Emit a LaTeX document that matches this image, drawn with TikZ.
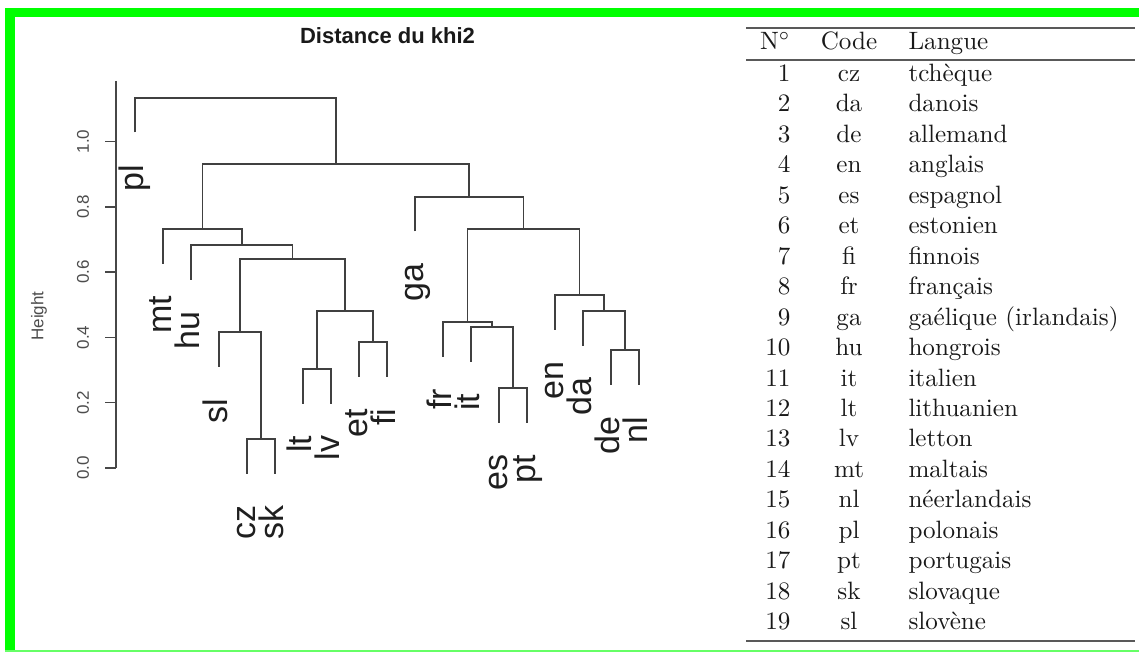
\documentclass[tikz,border=0pt]{standalone}
\usepackage{fontspec}
\newfontfamily\rsans{Liberation Sans}[Ligatures=NoCommon]
\usetikzlibrary{calc}
\begin{document}
\begin{tikzpicture}[x=1pt,y=-1pt,
  dendro/.style={draw=black!75,line width=1.7pt},
  axisline/.style={draw=black!72,line width=1.5pt},
  leaflab/.style={font=\rsans\fontsize{34}{34}\selectfont,rotate=90,anchor=east,inner sep=0pt,text height=24.5pt,text depth=7.1pt,text=black!88},
  ticklab/.style={font=\rsans\fontsize{17}{17}\selectfont,rotate=90,anchor=center,inner sep=0pt,text=black!70},
  titlelab/.style={font=\rsans\bfseries\fontsize{22}{22}\selectfont,inner sep=0pt,text=black!90},
  tabtxt/.style={scale=2.51,inner sep=0pt,text=black!90,font=\addfontfeatures{FakeBold=0.5}},
  tabrule/.style={draw=black!65}
]
\useasboundingbox (0,0) rectangle (1139,652);
% green frame
\fill[green] (5,8) rectangle (1139,17);
\fill[green] (5,8) rectangle (15,652);
\draw[green!60,line width=2pt] (5,650.5) -- (1139,650.5);

% title
\node[titlelab] (title) at (387.5,36) {Distance du khi2};

% axis
\draw[axisline] (116,81) -- (116,468);
\foreach \v/\lab in {0/0.0,1/0.2,2/0.4,3/0.6,4/0.8,5/1.0}{
  \draw[axisline] (105,{468-65.3*\v}) -- (116,{468-65.3*\v});
  \node[ticklab] (tick\v) at (83,{468-65.3*\v}) {\lab};
}
\node[ticklab] (ylab) at (39,316) {Height};

% leaves: name / x / parent merge y
\foreach \n/\x/\py in {pl/135/98, mt/163/229, hu/191/245, sl/219/332, cz/247/439, sk/275/439,
  lt/303/369, lv/331/369, et/359/342, fi/387/342, ga/415/197, fr/443/322, it/471/327,
  es/499/388, pt/527/388, en/555/295, da/583/311, de/611/350, nl/639/350}{
  \coordinate (\n) at (\x,{\py+34.5});
  \node[leaflab] (t-\n) at (\x,{\py+66.5}) {\n};
}

% clusters
\coordinate (E) at (261,439);
\coordinate (C) at (240,332);
\coordinate (F) at (317,369);
\coordinate (G) at (373,342);
\coordinate (D) at (345,311);
\coordinate (B) at (292.5,259);
\coordinate (A) at (241.75,245);
\coordinate (L) at (202.4,229);
\coordinate (M) at (513,388);
\coordinate (K) at (492,327);
\coordinate (I) at (467.5,322);
\coordinate (P) at (625,350);
\coordinate (N) at (604,311);
\coordinate (J) at (579.5,295);
\coordinate (H) at (523.5,229);
\coordinate (R) at (469.25,197);
\coordinate (big) at (335.8,164);
\coordinate (root) at (235.4,98);

\draw[dendro] (cz) |- (E) -| (sk);
\draw[dendro] (sl) |- (C) -| (E);
\draw[dendro] (lt) |- (F) -| (lv);
\draw[dendro] (et) |- (G) -| (fi);
\draw[dendro] (F) |- (D) -| (G);
\draw[dendro] (C) |- (B) -| (D);
\draw[dendro] (hu) |- (A) -| (B);
\draw[dendro] (mt) |- (L) -| (A);
\draw[dendro] (es) |- (M) -| (pt);
\draw[dendro] (it) |- (K) -| (M);
\draw[dendro] (fr) |- (I) -| (K);
\draw[dendro] (de) |- (P) -| (nl);
\draw[dendro] (da) |- (N) -| (P);
\draw[dendro] (en) |- (J) -| (N);
\draw[dendro] (I) |- (H) -| (J);
\draw[dendro] (ga) |- (R) -| (H);
\draw[dendro] (L) |- (big) -| (R);
\draw[dendro] (pl) |- (root) -| (big);

% table
\coordinate (r1a) at (746,28);  \coordinate (r1b) at (1135,28);
\coordinate (r2a) at (746,60);  \coordinate (r2b) at (1135,60);
\coordinate (r3a) at (746,641); \coordinate (r3b) at (1135,641);
\draw[tabrule,line width=2.6pt] (r1a) -- (r1b);
\draw[tabrule,line width=2pt] (r2a) -- (r2b);
\draw[tabrule,line width=2.6pt] (r3a) -- (r3b);
\node[tabtxt,anchor=base east] (hN) at (791,50) {N$^\circ$};
\node[tabtxt,anchor=base] (hC) at (849,50) {Code};
\node[tabtxt,anchor=base west] (hL) at (908,50) {Langue};
\foreach \i/\c/\lang in {1/cz/{tchèque},2/da/{danois},3/de/{allemand},4/en/{anglais},
  5/es/{espagnol},6/et/{estonien},7/fi/{finnois},8/fr/{français},9/ga/{gaélique (irlandais)},
  10/hu/{hongrois},11/it/{italien},12/lt/{lithuanien},13/lv/{letton},14/mt/{maltais},
  15/nl/{néerlandais},16/pl/{polonais},17/pt/{portugais},18/sk/{slovaque},19/sl/{slovène}}{
  \node[tabtxt,anchor=base east] (num\i) at (791,{81.5+30.45*(\i-1)}) {\i};
  \node[tabtxt,anchor=base] (code\i) at (849,{81.5+30.45*(\i-1)}) {\c};
  \node[tabtxt,anchor=base west] (lang\i) at (908,{81.5+30.45*(\i-1)}) {\lang};
}
\end{tikzpicture}
\end{document}
